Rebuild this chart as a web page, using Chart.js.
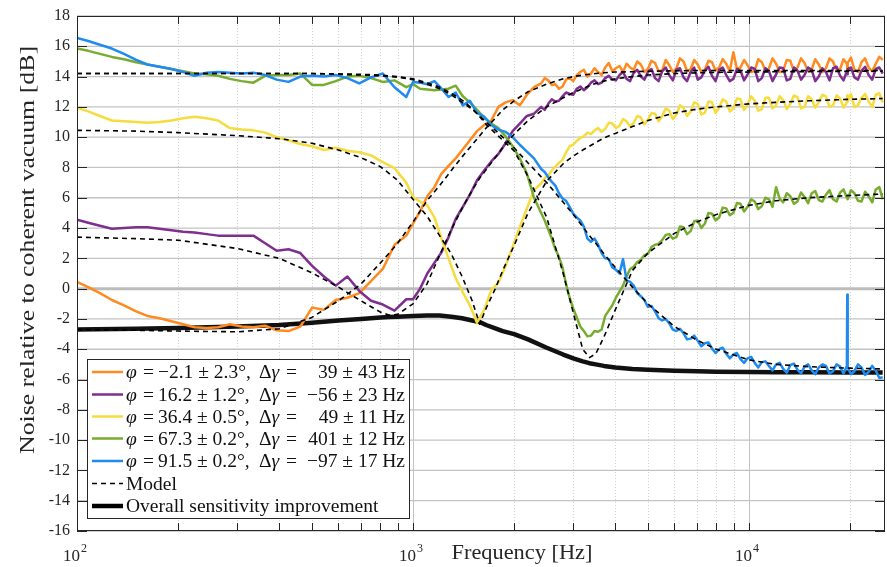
<!DOCTYPE html>
<html>
<head>
<meta charset="utf-8">
<script src="https://cdn.jsdelivr.net/npm/chart.js@4.4.1/dist/chart.umd.min.js"></script>
<style>
    html, body { margin: 0; padding: 0; background: #fff; }
    #wrap { width: 887px; height: 567px; }
</style>
</head>
<body>
<div id="wrap"><canvas id="noiseChart" width="887" height="567"></canvas></div>
<script>
// Measured spectra share one frequency grid (Hz)
const freqHz = [
    100, 108, 117, 127, 138, 150, 162, 176, 191, 207,
    224, 243, 263, 285, 309, 335, 363, 393, 426, 462,
    501, 543, 589, 638, 692, 750, 813, 881, 955,
    1000, 1050, 1103, 1158, 1216, 1276, 1340, 1407, 1477, 1551,
    1629, 1710, 1796, 1886, 1980, 2079, 2183, 2292, 2407, 2466,
    2527, 2589, 2653, 2719, 2786, 2855, 2925, 2998, 3072, 3147,
    3225, 3305, 3386, 3470, 3556, 3643, 3733, 3825, 3920, 4017,
    4116, 4218, 4322, 4429, 4538, 4650, 4765, 4882, 5003, 5126,
    5253, 5383, 5516, 5652, 5792, 5935, 6081, 6231, 6385, 6543,
    6705, 6870, 7040, 7214, 7392, 7574, 7762, 7953, 8150, 8351,
    8557, 8768, 8985, 9207, 9434, 9667, 9906, 10151, 10401, 10658,
    10921, 11191, 11467, 11751, 12041, 12338, 12643, 12955, 13275, 13603,
    13939, 14283, 14636, 14997, 15367, 15747, 16136, 16534, 16943, 17361,
    17790, 18229, 18679, 19117, 19560, 19613, 19670, 20116, 20594, 21109,
    21624, 22164, 22705, 23271, 23840, 24431, 25000
];

const orangeDb = [
    0.45, 0.1, -0.3, -0.75, -1.1, -1.5, -1.8, -1.95, -2.15, -2.35,
    -2.55, -2.6, -2.55, -2.35, -2.5, -2.55, -2.45, -2.75, -2.8, -2.5,
    -1.25, -1.4, -0.75, -0.6, -0.3, 0.5, 1.3, 2.9, 3.5,
    4.3, 5.1, 6.1, 6.7, 7.6, 8.1, 8.6, 9.2, 9.8, 10.4,
    10.8, 11.1, 12.0, 12.3, 12.45, 12.1, 12.8, 13.3, 13.55, 13.9,
    13.75, 13.45, 13.5, 13.2, 13.35, 13.8, 13.9, 13.7, 14.1, 14.3,
    14.45, 14.0, 14.2, 14.55, 14.3, 14.1, 14.6, 14.9, 14.35, 14.55,
    14.7, 14.3, 14.85, 14.6, 14.45, 15.0, 14.8, 14.3, 14.5, 15.05,
    14.9, 14.35, 14.4, 15.1, 14.75, 14.3, 14.55, 15.2, 15.0, 14.35,
    14.5, 15.1, 14.8, 14.3, 14.45, 15.05, 14.95, 14.4, 14.6, 15.15,
    14.85, 14.35, 15.6, 14.5, 14.6, 15.1, 14.75, 14.3, 14.4, 15.15,
    14.95, 14.4, 14.55, 15.2, 14.85, 14.3, 14.4, 15.1, 15.05, 14.35,
    14.6, 15.2, 14.9, 14.35, 14.45, 15.15, 14.8, 14.3, 14.55, 15.2,
    15.0, 14.4, 14.5, 15.15, 14.85, 14.5, 14.9, 15.25, 14.45, 14.3,
    14.95, 15.2, 14.6, 14.35, 14.85, 15.3, 15.1
];

const purpleDb = [
    4.55, 4.35, 4.15, 3.95, 4.0, 4.05, 4.05, 3.95, 3.85, 3.75,
    3.7, 3.6, 3.5, 3.5, 3.5, 3.5, 3.0, 2.5, 2.6, 2.35,
    1.5, 0.8, 0.2, 0.8, -0.15, -0.8, -1.05, -1.45, -0.7,
    -0.7, 0.0, 1.0, 1.7, 2.4, 3.4, 4.6, 5.4, 6.2, 7.15,
    7.8, 8.4, 8.9, 9.6, 10.4, 10.9, 11.4, 11.55, 12.0, 11.8,
    12.2, 12.5, 12.35, 12.4, 12.7, 12.95, 12.85, 12.8, 13.2, 13.35,
    13.1, 13.3, 13.6, 13.75, 13.5, 13.6, 13.9, 14.05, 13.8, 13.75,
    14.1, 14.3, 13.85, 13.7, 14.25, 14.45, 14.0, 13.8, 14.3, 14.5,
    13.9, 13.7, 14.35, 14.6, 14.1, 13.75, 14.45, 14.55, 13.95, 13.7,
    14.3, 14.6, 13.8, 13.95, 14.4, 14.65, 14.05, 13.7, 14.45, 14.6,
    14.1, 13.7, 13.85, 14.5, 14.4, 13.75, 14.15, 14.6, 14.5, 13.7,
    13.9, 14.55, 14.35, 13.7, 14.15, 14.6, 14.55, 13.75, 13.85, 14.6,
    14.4, 13.8, 14.1, 14.6, 14.45, 13.7, 14.0, 14.55, 14.3, 13.75,
    14.55, 14.65, 14.05, 13.75, 14.35, 14.15, 14.5, 14.6, 13.95, 13.8,
    14.4, 14.65, 14.1, 13.8, 14.5, 14.6, 14.2
];

const yellowDb = [
    11.95, 11.7, 11.4, 11.1, 11.05, 11.0, 10.95, 11.0, 11.1, 11.25,
    11.35, 11.25, 11.1, 10.6, 10.5, 10.45, 10.3, 10.0, 9.8, 9.55,
    9.4, 9.15, 9.3, 9.1, 9.0, 8.8, 8.35, 7.95, 7.0,
    6.05, 5.75, 5.5, 4.7, 3.3, 2.0, 0.7, -0.25, -1.1, -2.25,
    -1.4, -0.1, 0.4, 1.5, 2.75, 4.05, 5.3, 6.5, 6.95, 7.3,
    7.45, 7.8, 8.05, 8.3, 8.5, 9.0, 9.4, 9.5, 9.75, 9.95,
    10.05, 10.3, 10.2, 10.45, 10.6, 10.35, 10.55, 10.95, 10.9, 10.6,
    10.75, 11.2, 11.05, 10.7, 10.95, 11.4, 11.3, 10.85, 11.15, 11.6,
    11.55, 11.05, 11.4, 11.9, 11.75, 11.2, 11.5, 12.1, 11.95, 11.4,
    11.7, 12.3, 12.2, 11.5, 11.6, 12.35, 12.3, 11.6, 11.95, 12.5,
    12.35, 11.7, 11.9, 12.55, 12.5, 11.8, 12.15, 12.7, 12.4, 11.75,
    11.85, 12.6, 12.6, 11.9, 12.1, 12.7, 12.45, 11.85, 12.2, 12.75,
    12.65, 11.9, 12.0, 12.7, 12.5, 11.95, 12.3, 12.8, 12.7, 12.0,
    12.1, 12.75, 12.55, 11.95, 12.3, 12.75, 12.35, 12.85, 12.0, 12.1,
    12.6, 12.85, 12.35, 12.0, 12.8, 12.9, 12.3
];

const greenDb = [
    15.85, 15.7, 15.5, 15.3, 15.15, 14.95, 14.8, 14.65, 14.5, 14.35,
    14.2, 14.15, 14.05, 13.85, 13.7, 13.6, 14.05, 14.1, 14.1, 14.2,
    13.45, 13.45, 13.7, 14.0, 14.05, 13.9, 13.65, 13.75, 13.3,
    13.5, 13.2, 13.15, 13.1, 13.15, 13.2, 13.4, 12.7, 12.3, 11.8,
    11.3, 10.9, 10.6, 10.05, 9.4, 8.6, 7.6, 6.0, 5.0, 4.5,
    3.9, 3.3, 2.6, 2.1, 1.4, 0.3, -0.6, -1.3, -1.9, -2.5,
    -2.8, -3.15, -3.1, -2.8, -2.85, -2.7, -1.8, -1.45, -1.1, -0.6,
    -0.2, 0.2, 0.8, 1.3, 1.45, 1.75, 1.9, 2.2, 2.3, 2.75,
    2.9, 2.95, 3.2, 3.55, 3.6, 3.3, 3.4, 4.1, 4.05, 3.6,
    3.8, 4.45, 4.5, 4.0, 4.3, 5.0, 4.95, 4.5, 4.7, 5.35,
    5.3, 4.85, 5.0, 5.65, 5.6, 5.1, 5.4, 5.9, 5.75, 5.25,
    5.45, 6.0, 5.9, 5.4, 6.7, 5.95, 5.7, 6.3, 6.1, 5.6,
    5.75, 6.35, 6.05, 5.65, 6.3, 6.45, 5.85, 5.75, 6.2, 6.5,
    5.9, 5.75, 6.35, 6.55, 6.0, 6.15, 5.9, 6.5, 6.3, 5.8,
    5.75, 6.4, 6.1, 5.7, 6.55, 6.7, 5.9
];

const blueDb = [
    16.55, 16.35, 16.1, 15.85, 15.5, 15.1, 14.8, 14.65, 14.5, 14.3,
    14.05, 14.25, 14.3, 14.25, 14.2, 14.25, 14.1, 13.8, 13.65, 14.0,
    14.05, 14.0, 14.1, 13.9, 13.55, 13.95, 14.2, 13.3, 12.65,
    13.65, 13.6, 13.5, 13.7, 13.2, 12.65, 12.95, 12.1, 12.4, 11.6,
    11.35, 10.8, 10.5, 10.35, 10.0, 9.5, 9.05, 8.6, 7.9, 7.7,
    7.35, 7.05, 6.8, 6.3, 5.95, 5.8, 5.4, 4.95, 4.7, 4.5,
    4.1, 3.3, 3.1, 3.3, 2.9, 2.35, 2.0, 1.95, 1.4, 1.25,
    1.0, 1.95, 0.55, 0.45, 0.2, -0.3, -0.5, -0.75, -1.2, -1.15,
    -1.5, -1.95, -2.1, -2.0, -2.3, -2.7, -2.8, -2.65, -2.95, -3.35,
    -3.3, -3.1, -3.45, -3.8, -3.6, -3.55, -3.95, -4.25, -4.0, -3.9,
    -4.3, -4.6, -4.35, -4.25, -4.65, -4.9, -4.6, -4.5, -4.9, -5.2,
    -4.85, -4.8, -5.1, -5.4, -5.0, -4.9, -5.3, -5.55, -5.05, -4.95,
    -5.35, -5.6, -5.15, -5.0, -5.4, -5.65, -5.2, -5.0, -5.1, -5.6,
    -5.45, -5.0, -5.15, -5.6, -5.1, -0.4, -5.2, -5.65, -5.45, -5.0,
    -5.2, -5.7, -5.5, -5.1, -5.4, -5.9, -5.85
];

// Model curves and overall improvement on a coarser grid (Hz)
const modelFreq = [
    100, 150, 200, 300, 400, 500, 600, 700, 800, 850,
    900, 1000, 1100, 1200, 1300, 1400, 1500, 1580, 1650, 1750,
    1850, 2000, 2200, 2500, 2800, 3000, 3200, 3350, 3500, 3700,
    4000, 4500, 5000, 6000, 7000, 8000, 10000, 12000, 15000, 20000,
    25000
];
const orangeModel = [
    -2.7, -2.75, -2.8, -2.85, -2.65, -1.9, -0.8, 0.3, 1.7, 2.35,
    3.0, 4.4, 5.8, 6.8, 7.8, 8.7, 9.5, 10.1, 10.6, 11.2,
    11.8, 12.4, 13.0, 13.5, 13.85, 14.0, 14.1, 14.15, 14.2, 14.25,
    14.3, 14.32, 14.35, 14.38, 14.4, 14.4, 14.4, 14.4, 14.4, 14.4,
    14.4
];
const purpleModel = [
    3.4, 3.3, 3.2, 2.65, 2.0, 1.05, 0.1, -0.8, -1.55, -1.75,
    -1.7, -1.0, 0.3, 2.2, 3.9, 5.3, 6.5, 7.3, 7.85, 8.6,
    9.3, 10.2, 11.1, 12.0, 12.6, 12.95, 13.2, 13.4, 13.55, 13.7,
    13.85, 14.0, 14.1, 14.2, 14.25, 14.28, 14.3, 14.32, 14.33, 14.35,
    14.35
];
const yellowModel = [
    10.45, 10.4, 10.3, 10.1, 9.9, 9.6, 9.15, 8.65, 8.05, 7.6,
    7.15, 5.9, 4.8, 3.5, 2.3, 0.8, -0.8, -2.35, -1.3, -0.1,
    1.2, 2.85, 5.0, 7.1, 8.25, 8.75, 9.15, 9.4, 9.65, 9.95,
    10.25, 10.7, 11.1, 11.6, 11.85, 12.0, 12.2, 12.3, 12.4, 12.5,
    12.55
];
const greenModel = [
    14.2, 14.2, 14.2, 14.2, 14.2, 14.2, 14.18, 14.15, 14.1, 14.05,
    14.0, 13.85, 13.6, 13.3, 12.9, 12.45, 11.9, 11.35, 10.85, 10.3,
    9.8, 9.1, 7.4, 4.7, 1.0, -1.6, -4.0, -4.55, -4.3, -3.2,
    -1.4, 1.2, 2.35, 3.65, 4.4, 4.9, 5.5, 5.8, 6.0, 6.15,
    6.25
];
const blueModel = [
    14.2, 14.2, 14.2, 14.2, 14.2, 14.2, 14.15, 14.1, 14.05, 14.0,
    13.95, 13.8, 13.5, 13.2, 12.8, 12.3, 11.85, 11.4, 11.0, 10.5,
    10.0, 9.3, 8.3, 7.0, 5.7, 4.9, 4.1, 3.5, 3.0, 2.3,
    1.4, 0.1, -1.0, -2.5, -3.4, -4.0, -4.7, -5.0, -5.15, -5.25,
    -5.3
];
const overallDb = [
    -2.7, -2.65, -2.6, -2.5, -2.4, -2.25, -2.1, -2.0, -1.9, -1.87,
    -1.85, -1.8, -1.78, -1.78, -1.85, -1.95, -2.1, -2.2, -2.4, -2.6,
    -2.8, -3.0, -3.35, -3.9, -4.35, -4.6, -4.8, -4.92, -5.0, -5.1,
    -5.2, -5.3, -5.35, -5.42, -5.46, -5.48, -5.5, -5.52, -5.52, -5.53,
    -5.53
];

// Axis ticks
const xDecades = [100, 1000, 10000];
const xDecadeExp = ['2', '3', '4'];
const xMinor = [200, 300, 400, 500, 600, 700, 800, 900,
    2000, 3000, 4000, 5000, 6000, 7000, 8000, 9000, 20000];
const yTicks = [-16, -14, -12, -10, -8, -6, -4, -2, 0, 2, 4, 6, 8, 10, 12, 14, 16, 18];

// Legend entries
const seriesColors = ['#ff8a1f', '#7e2f8e', '#f6dc3c', '#77ac30', '#1f8bef'];
const phiLabels = ['\u22122.1 \u00b1 2.3\u00b0,', '16.2 \u00b1 1.2\u00b0,', '36.4 \u00b1 0.5\u00b0,', '67.3 \u00b1 0.2\u00b0,', '91.5 \u00b1 0.2\u00b0,'];
const gammaLabels = ['39 \u00b1 43 Hz', '\u221256 \u00b1 23 Hz', '49 \u00b1 11 Hz', '401 \u00b1 12 Hz', '\u221297 \u00b1 17 Hz'];

const SERIF = "'Liberation Serif', 'Times New Roman', serif";

function toPoints(xs, ys) {
    return xs.map((f, i) => ({ x: f, y: ys[i] }));
}

function hLine(ctx, x1, y1, x2, y2) {
    ctx.beginPath();
    ctx.moveTo(x1, y1);
    ctx.lineTo(x2, y2);
    ctx.stroke();
}

// text squeezed/stretched to a given width
function fittedText(ctx, text, x, y, width, font, angle) {
    ctx.save();
    ctx.font = font;
    const w = ctx.measureText(text).width;
    ctx.translate(x, y);
    if (angle) ctx.rotate(angle);
    ctx.scale(width / w, 1);
    ctx.textAlign = 'center';
    ctx.textBaseline = 'alphabetic';
    ctx.fillText(text, 0, 0);
    ctx.restore();
}

const matlabAxes = {
    id: 'matlabAxes',
    beforeDraw(chart) {
        const ctx = chart.ctx;
        ctx.save();
        ctx.fillStyle = '#fff';
        ctx.fillRect(0, 0, chart.width, chart.height);
        ctx.restore();
    },
    beforeDatasetsDraw(chart) {
        const { ctx, chartArea: a, scales: { x, y } } = chart;
        ctx.save();
        ctx.lineWidth = 1;
        ctx.strokeStyle = '#d2d2d2';
        ctx.setLineDash([1, 2]);
        xMinor.forEach(f => {
            const px = Math.round(x.getPixelForValue(f)) + 0.5;
            hLine(ctx, px, a.top, px, a.bottom);
        });
        ctx.setLineDash([]);
        ctx.strokeStyle = '#c3c3c3';
        xDecades.slice(1).forEach(f => {
            const px = Math.round(x.getPixelForValue(f)) + 0.5;
            hLine(ctx, px, a.top, px, a.bottom);
        });
        ctx.lineWidth = 1.3;
        yTicks.forEach(v => {
            if (v === 0) return;
            const py = y.getPixelForValue(v);
            hLine(ctx, a.left, py, a.right, py);
        });
        // zero reference
        ctx.strokeStyle = '#bcbcbc';
        ctx.lineWidth = 3;
        const p0 = y.getPixelForValue(0);
        hLine(ctx, a.left, p0, a.right, p0);
        ctx.restore();
    },
    afterDatasetsDraw(chart) {
        const { ctx, chartArea: a, scales: { x, y } } = chart;
        ctx.save();
        ctx.strokeStyle = '#262626';
        ctx.lineWidth = 1;
        // tick marks pointing inward
        yTicks.forEach(v => {
            const py = Math.round(y.getPixelForValue(v)) + 0.5;
            hLine(ctx, a.left, py, a.left + 10, py);
            hLine(ctx, a.right - 10, py, a.right, py);
        });
        xMinor.concat(xDecades).forEach(f => {
            const px = Math.round(x.getPixelForValue(f)) + 0.5;
            hLine(ctx, px, a.bottom, px, a.bottom - 8);
            hLine(ctx, px, a.top, px, a.top + 8);
        });
        ctx.strokeRect(a.left + 0.5, a.top + 0.5, a.right - a.left - 1, a.bottom - a.top - 1);

        // tick labels
        ctx.fillStyle = '#262626';
        ctx.font = '16px ' + SERIF;
        ctx.textAlign = 'right';
        ctx.textBaseline = 'middle';
        yTicks.forEach(v => {
            ctx.fillText(String(v), a.left - 7, y.getPixelForValue(v));
        });
        ctx.textBaseline = 'alphabetic';
        xDecades.forEach((f, i) => {
            const px = x.getPixelForValue(f);
            ctx.font = '17px ' + SERIF;
            ctx.textAlign = 'right';
            ctx.fillText('10', px + 3, 561);
            ctx.font = '12px ' + SERIF;
            ctx.textAlign = 'left';
            ctx.fillText(xDecadeExp[i], px + 4, 552);
        });

        // axis titles
        fittedText(ctx, 'Frequency [Hz]', 522, 559, 141, '21px ' + SERIF, 0);
        fittedText(ctx, 'Noise relative to coherent vacuum [dB]', 34, 250, 408, '21px ' + SERIF, -Math.PI / 2);

        drawLegend(ctx);
        ctx.restore();
    }
};

function drawLegend(ctx) {
    const box = { left: 87, top: 359, right: 409, bottom: 518 };
    const rows = [372, 394.5, 416.5, 438.5, 461, 483.5, 506];
    ctx.save();
    ctx.fillStyle = '#fff';
    ctx.fillRect(box.left, box.top, box.right - box.left, box.bottom - box.top);
    ctx.strokeStyle = '#262626';
    ctx.lineWidth = 1;
    ctx.strokeRect(box.left + 0.5, box.top + 0.5, box.right - box.left, box.bottom - box.top);

    const regular = '19.5px ' + SERIF;
    const italic = 'italic 19.5px ' + SERIF;
    ctx.textBaseline = 'alphabetic';
    ctx.fillStyle = '#111';

    phiLabels.forEach((phi, i) => {
        const cy = rows[i];
        ctx.strokeStyle = seriesColors[i];
        ctx.lineWidth = 2.5;
        hLine(ctx, 92, cy, 123, cy);

        const base = cy + 6;
        ctx.textAlign = 'left';
        ctx.font = italic;
        ctx.fillText('\u03c6', 126, base);
        ctx.font = regular;
        ctx.fillText('=', 143, base);
        ctx.fillText(phi, 158, base);
        ctx.fillText('\u0394', 259, base);
        const dw = ctx.measureText('\u0394').width;
        ctx.font = italic;
        ctx.fillText('\u03b3', 259 + dw, base);
        ctx.font = regular;
        ctx.fillText('=', 286, base);
        ctx.textAlign = 'right';
        ctx.fillText(gammaLabels[i], 405, base);
    });

    // Model and overall curve entries
    ctx.strokeStyle = '#000';
    ctx.lineWidth = 1.6;
    ctx.setLineDash([5, 4]);
    hLine(ctx, 92, rows[5], 123, rows[5]);
    ctx.setLineDash([]);
    ctx.lineWidth = 4.5;
    hLine(ctx, 92, rows[6], 123, rows[6]);
    ctx.textAlign = 'left';
    ctx.font = regular;
    ctx.fillText('Model', 126, rows[5] + 6);
    ctx.fillText('Overall sensitivity improvement', 126, rows[6] + 6);
    ctx.restore();
}

function lineSet(xs, ys, color, width, order, dash) {
    return {
        data: toPoints(xs, ys),
        borderColor: color,
        borderWidth: width,
        borderDash: dash || [],
        pointRadius: 0,
        fill: false,
        tension: 0,
        order: order
    };
}

function renderChart() {
    const ctx = document.getElementById('noiseChart').getContext('2d');
    const datasets = [
        lineSet(modelFreq, orangeModel, '#000', 1.6, 0, [5, 4]),
        lineSet(modelFreq, purpleModel, '#000', 1.6, 0, [5, 4]),
        lineSet(modelFreq, yellowModel, '#000', 1.6, 0, [5, 4]),
        lineSet(modelFreq, greenModel, '#000', 1.6, 0, [5, 4]),
        lineSet(modelFreq, blueModel, '#000', 1.6, 0, [5, 4]),
        lineSet(freqHz, blueDb, seriesColors[4], 2.5, 1),
        lineSet(freqHz, greenDb, seriesColors[3], 2.5, 2),
        lineSet(freqHz, yellowDb, seriesColors[2], 2.5, 3),
        lineSet(freqHz, purpleDb, seriesColors[1], 2.5, 4),
        lineSet(freqHz, orangeDb, seriesColors[0], 2.5, 5),
        lineSet(modelFreq, overallDb, '#111', 4.5, 6)
    ];

    new Chart(ctx, {
        type: 'line',
        data: { datasets },
        options: {
            responsive: false,
            animation: false,
            layout: { padding: { left: 77, right: 2, top: 16, bottom: 36 } },
            plugins: { legend: { display: false }, tooltip: { enabled: false } },
            elements: { line: { borderJoinStyle: 'round', borderCapStyle: 'butt' } },
            scales: {
                x: { type: 'logarithmic', min: 100, max: 25400, display: false },
                y: { type: 'linear', min: -16, max: 18, display: false }
            }
        },
        plugins: [matlabAxes]
    });
}

document.addEventListener('DOMContentLoaded', renderChart);
</script>
</body>
</html>
